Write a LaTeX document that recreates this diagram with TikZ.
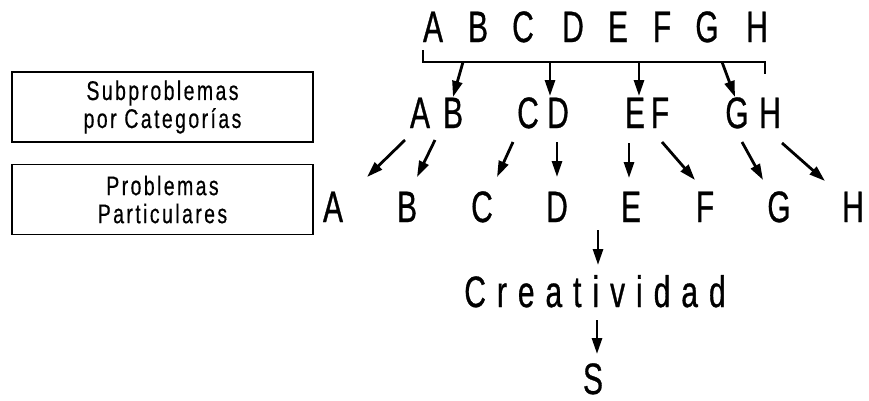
\documentclass[tikz,border=0pt]{standalone}
\usepackage{fontspec}
\setmainfont{Liberation Sans}[FakeStretch=0.68,FakeBold=0.7]
\newfontfamily\boxfont{Liberation Sans}[FakeStretch=0.72,FakeBold=0.5,LetterSpace=9]
\newfontfamily\widefont{Liberation Sans}[FakeStretch=0.68,FakeBold=0.7,LetterSpace=25]
\usetikzlibrary{arrows.meta}
\begin{document}
\begin{tikzpicture}[x=1pt,y=-1pt,
  letter/.style={inner sep=0pt,anchor=base,font=\fontsize{44}{50}\selectfont},
  labelbox/.style={draw,line width=1.4pt,inner sep=0pt,minimum width=301pt,
    minimum height=70pt,align=center,font=\boxfont\fontsize{27}{28}\selectfont},
  arr/.style={line width=2.8pt,-{Triangle[length=16pt,width=10pt]}},
  bracket/.style={line width=2.8pt,line cap=butt}]
\useasboundingbox (0,0) rectangle (869,400);

% category labels on the left
\node[labelbox] (subcat) at (162.5,107) {Subproblemas\\por Categorías};
\node[labelbox] (partic) at (162.5,199.5) {Problemas\\Particulares};

% whole problem
\foreach \l/\x in {A/433,B/478,C/523,D/573,E/618,F/662,G/707,H/757}
  \node[letter] (t\l) at (\x,42) {\l};

% sub-problems by category
\foreach \l/\x in {A/420,B/453,C/528,D/558,E/635,F/660,G/737,H/770}
  \node[letter] (m\l) at (\x,128) {\l};

% particular problems
\foreach \l/\x in {A/333,B/407,C/482,D/557,E/631,F/705,G/779,H/853}
  \node[letter] (p\l) at (\x,222) {\l};

\node[letter,font=\widefont\fontsize{44}{50}\selectfont] (crea) at (595,307) {Creatividad};
\node[letter] (sol) at (593,394) {S};

% bracket under the whole problem
\coordinate (br) at (765,62);
\draw[bracket] (tA.base) ++(-10,8) |- (br) -- ([yshift=-12pt]br);

% split into categories
\draw[arr] (mB.base) ++(10,-66) -- ++(-10,35);
\draw[arr] (mC.base) ++(22,-66) -- ++(0,34);
\draw[arr] (mE.base) ++(4,-66) -- ++(0,34);
\draw[arr] (mG.base) ++(-15,-66) -- ++(13,35);

% split into particular problems
\draw[arr] (mA.base) ++(-15,12) -- ++(-38,37);
\draw[arr] (mB.base) ++(-18,12) -- ++(-18,37);
\draw[arr] (mC.base) ++(-15,14) -- ++(-16,35);
\draw[arr] (mD.base) ++(-1,14) -- ++(0,35);
\draw[arr] (mE.base) ++(-6,15) -- ++(0,35);
\draw[arr] (mF.base) ++(2,14) -- ++(33,38);
\draw[arr] (mG.base) ++(5,14) -- ++(21,38);
\draw[arr] (mH.base) ++(12,15) -- ++(43,38);

% towards the solution
\draw[arr] (crea.base) ++(3,-77) -- ++(0,35);
\draw[arr] (sol.base) ++(4,-74) -- ++(0,34);
\end{tikzpicture}
\end{document}
